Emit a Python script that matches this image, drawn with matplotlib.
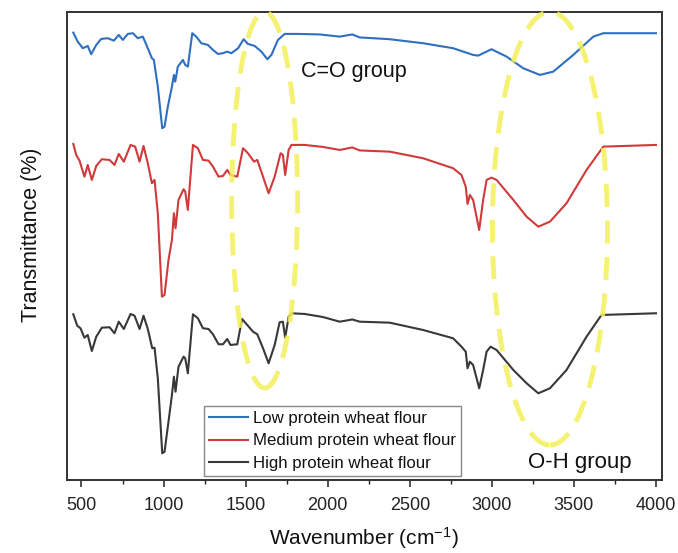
import matplotlib
matplotlib.use("Agg")
import matplotlib.pyplot as plt
from matplotlib.patches import Ellipse
from matplotlib.ticker import MultipleLocator

plt.rcParams['font.family'] = ['Liberation Sans', 'DejaVu Sans']
plt.rcParams['mathtext.fontset'] = 'custom'
plt.rcParams['mathtext.rm'] = 'Liberation Sans'
plt.rcParams['mathtext.it'] = 'Liberation Sans'
plt.rcParams['mathtext.default'] = 'regular'

# ---------------- data ----------------
low_wn = [450, 477, 508, 538, 559, 590, 620, 660, 697, 727, 752, 782, 813, 843, 874, 904, 929, 941,
          965, 992, 1006, 1026, 1051, 1063, 1071, 1087, 1118, 1132, 1148, 1175, 1199, 1230, 1270,
          1301, 1331, 1362, 1388, 1413, 1454, 1488, 1514, 1555, 1596, 1632, 1657, 1697, 1738, 1819,
          1950, 2073, 2150, 2195, 2378, 2581, 2764, 2886, 2917, 2998, 3090, 3191, 3293, 3374, 3496,
          3618, 3679, 4000]
low_t = [447.3, 438.3, 431.7, 434, 425.7, 435, 441, 441.7, 439.3, 445, 440, 446, 446.7, 441.7, 443.3,
         431.7, 421.7, 420, 393.3, 351.7, 353.3, 373.3, 393.3, 405, 398.3, 413.3, 420, 415, 413.3,
         446.7, 443.3, 436.7, 435, 430, 426, 426.7, 428.3, 426.7, 431.7, 440.7, 436, 434, 428.3,
         420.7, 425, 440, 446, 446, 445.5, 443.3, 445.5, 442.5, 440.7, 436.7, 431.7, 425, 424.3,
         430.7, 423.3, 411.7, 405, 408.3, 425, 443.3, 446.7, 446.7]

medium_wn = [450, 468, 488, 518, 538, 563, 590, 624, 671, 701, 727, 758, 799, 827, 854, 878, 904, 929,
             945, 965, 990, 1006, 1030, 1051, 1063, 1073, 1091, 1122, 1132, 1148, 1179, 1209, 1240,
             1274, 1301, 1335, 1362, 1388, 1408, 1449, 1484, 1514, 1551, 1571, 1606, 1640, 1677, 1713,
             1727, 1741, 1762, 1779, 1860, 1970, 2073, 2150, 2195, 2378, 2581, 2764, 2815, 2841, 2852,
             2866, 2886, 2923, 2947, 2968, 2998, 3029, 3131, 3212, 3283, 3354, 3455, 3577, 3679, 4000]
medium_t = [336, 325, 319.3, 303.3, 315, 300, 314, 320.7, 320, 315, 326, 318.3, 335, 333.3, 318.3, 334,
            316.7, 296.7, 300, 266.7, 183.3, 185, 220, 240, 266.7, 251.7, 280, 290.7, 288.3, 270, 335,
            331.7, 320, 319.3, 313.3, 303.3, 304, 310, 305, 303.3, 331.7, 326.7, 318.3, 320, 303.3,
            286.7, 303.3, 326.7, 325, 305, 330, 335, 335, 333, 330, 332.5, 329.5, 328.3, 321.7, 311.7,
            305, 293.3, 276, 285, 280, 250, 280, 300, 302.3, 300, 280, 263.3, 253.3, 258.3, 276.7,
            310, 333.3, 335]

high_wn = [450, 474, 494, 518, 538, 563, 590, 624, 671, 701, 727, 758, 799, 823, 854, 878, 904, 931,
           945, 965, 992, 1006, 1030, 1051, 1063, 1073, 1091, 1122, 1132, 1148, 1179, 1209, 1240, 1274,
           1301, 1335, 1362, 1388, 1408, 1449, 1478, 1510, 1545, 1571, 1606, 1640, 1677, 1707, 1727,
           1741, 1762, 1782, 1860, 1970, 2073, 2150, 2195, 2378, 2581, 2764, 2815, 2841, 2852, 2866,
           2886, 2923, 2947, 2968, 2992, 3029, 3131, 3212, 3283, 3354, 3455, 3577, 3668, 4000]
high_t = [165.7, 154.3, 151.7, 142.3, 145, 129, 143.3, 152.3, 152.7, 146.7, 158.3, 151, 166, 164.3,
          151, 164.3, 151, 131.7, 132.3, 101.7, 26.7, 28.3, 58.3, 85, 103.3, 88.3, 113.3, 123.3, 121.7,
          106.7, 165.7, 161.7, 151.7, 151, 145.7, 135.7, 135.7, 141, 135, 135.7, 161, 155, 148.3,
          145.7, 131.7, 116.7, 135, 157.7, 158.3, 142.3, 163.3, 166.7, 166, 163, 158.3, 160.5, 158.3,
          157.3, 150, 141.7, 133.3, 128.3, 111.7, 118.3, 115, 91.7, 110, 128.3, 133.3, 130, 110, 96.7,
          86.7, 91.7, 110, 143.3, 165, 166.7]

series_labels = ["Low protein wheat flour", "Medium protein wheat flour", "High protein wheat flour"]
x_ticks = [500, 1000, 1500, 2000, 2500, 3000, 3500, 4000]

# highlighted regions: (centre wavenumber, width, centre value, height)
co_region = (1616, 402, 280, 376)
oh_region = (3354, 701, 251.5, 433)
annotations = ["C=O group", "O-H group"]

# ---------------- plot ----------------
fig = plt.figure(figsize=(6.78, 5.53), dpi=100)
ax = fig.add_axes([0.0984, 0.132, 0.8776, 0.847])

colors = ["#2f6fc0", "#d03a3a", "#383838"]
ax.plot(low_wn, low_t, color=colors[0], lw=1.5, label=series_labels[0])
ax.plot(medium_wn, medium_t, color=colors[1], lw=1.5, label=series_labels[1])
ax.plot(high_wn, high_t, color=colors[2], lw=1.5, label=series_labels[2])

ax.set_xlim(410, 4035)
ax.set_ylim(0, 468.3)

for (cx, w, cy, h) in (co_region, oh_region):
    e = Ellipse((cx, cy), w, h, fill=False, edgecolor="#f3ef5a", alpha=0.85, lw=3.5,
                linestyle=(0, (4.7, 2.8)), clip_on=False, zorder=5)
    ax.add_patch(e)

ax.text(1840, 408, annotations[0], fontsize=15.5, ha="left", va="center", color="#111111")
ax.text(3220, 18, annotations[1], fontsize=16, ha="left", va="center", color="#111111")

ax.set_xticks(x_ticks)
ax.xaxis.set_minor_locator(MultipleLocator(250))
ax.tick_params(axis="x", which="major", direction="out", length=5, width=1.1, labelsize=13,
               pad=7, top=False, colors="#222222")
ax.tick_params(axis="x", which="minor", direction="out", length=3, width=1.0, top=False,
               colors="#222222")
ax.tick_params(axis="y", which="both", left=False, right=False, labelleft=False)

for sp in ax.spines.values():
    sp.set_linewidth(1.4)
    sp.set_color("#333333")

ax.set_xlabel("Wavenumber (cm$^{-1}$)", fontsize=15, color="#111111")
ax.set_ylabel("Transmittance (%)", fontsize=15.5, color="#111111")
ax.xaxis.set_label_coords(0.4997, -0.096)
ax.yaxis.set_label_coords(-0.042, 0.523)

leg = ax.legend(loc="lower left", bbox_to_anchor=(0.231, 0.0085), borderaxespad=0,
                fontsize=12.1, frameon=True, fancybox=False, framealpha=1,
                edgecolor="#888888", handlelength=2.3, handletextpad=0.3,
                labelspacing=0.45, borderpad=0.3)
leg.get_frame().set_linewidth(1.0)
for t in leg.get_texts():
    t.set_color("#111111")

fig.savefig("out.png", dpi=100)
